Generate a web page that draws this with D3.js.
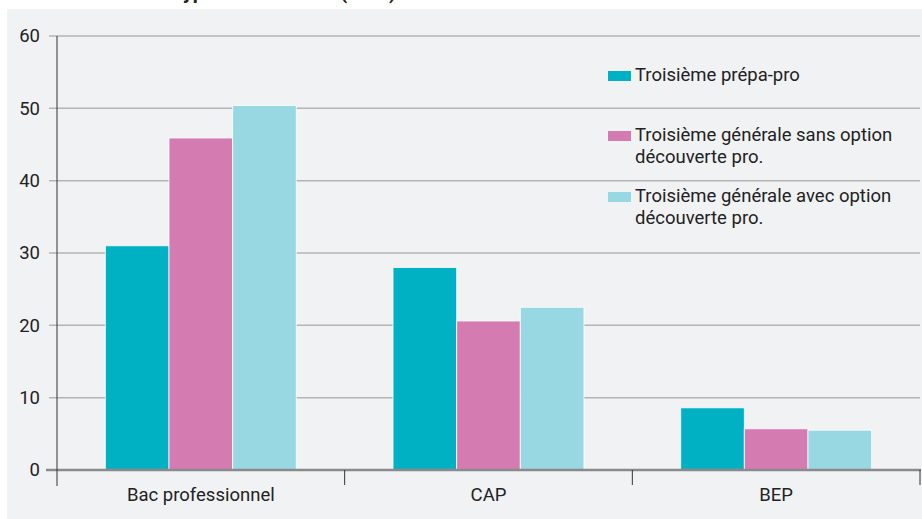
<!DOCTYPE html>
<html><head><meta charset="utf-8">
<script src="https://cdn.jsdelivr.net/npm/d3@7"></script>
<style>
html,body{margin:0;padding:0;background:#fff;}
svg{display:block;font-family:Roboto, "Noto Sans", sans-serif;}
</style></head>
<body>
<svg id="c" width="922" height="519"></svg>
<script>
const categories = ["Bac professionnel", "CAP", "BEP"];
const seriesNames = [
  ["Troisième prépa-pro"],
  ["Troisième générale sans option", "découverte pro."],
  ["Troisième générale avec option", "découverte pro."]
];
const prepaPro = [31, 28, 8.6];
const generaleSans = [45.9, 20.6, 5.7];
const generaleAvec = [50.4, 22.5, 5.5];
const yTicks = [0, 10, 20, 30, 40, 50, 60];
const colors = ["#00b0c3", "#d47bb2", "#98d8e2"];
const title = "Type de formation (en %)";

(function () {
const series = [prepaPro, generaleSans, generaleAvec];
const svg = d3.select("#c");
const fs = 18.5;

// title (cut off at top, as in the source image)
svg.append("text").attr("x", 396).attr("y", -1).attr("text-anchor", "end")
  .attr("font-weight", "bold").attr("font-size", 20).attr("fill", "#222").text(title);

// panel background
svg.append("rect").attr("x", 7).attr("y", 9).attr("width", 915).attr("height", 510).attr("fill", "#f1f2f4");

const pl = 57, pr = 920, pt = 36, pb = 470;
const y = d3.scaleLinear().domain([0, 60]).range([pb, pt]);
const x0 = d3.scaleBand().domain(categories).range([pl, pr]).padding(0);
const x1 = d3.scaleBand().domain(d3.range(series.length)).range([0, x0.bandwidth()]).paddingInner(0).paddingOuter(0.76);

// gridlines
svg.append("g").selectAll("line").data(yTicks.filter(d => d > 0)).join("line")
  .attr("x1", pl - 8).attr("x2", pr).attr("y1", d => y(d)).attr("y2", d => y(d))
  .attr("stroke", "#b4b4b6").attr("stroke-width", 1.5);

// y tick labels
svg.append("g").selectAll("text").data(yTicks).join("text")
  .attr("x", 40).attr("y", d => y(d)).attr("dy", "0.35em").attr("text-anchor", "end")
  .attr("font-size", fs).attr("fill", "#222").text(d => d);

// bars
const g = svg.append("g");
categories.forEach((c, ci) => {
  series.forEach((s, si) => {
    g.append("rect")
      .attr("x", x0(c) + x1(si))
      .attr("y", y(s[ci]))
      .attr("width", x1.bandwidth())
      .attr("height", y(0) - y(s[ci]))
      .attr("fill", colors[si])
      .attr("stroke", "#ffffff").attr("stroke-width", 1).attr("stroke-opacity", 0.8);
  });
});

// baseline
svg.append("line").attr("x1", pl - 11).attr("x2", pr + 1).attr("y1", y(0)).attr("y2", y(0))
  .attr("stroke", "#8a8a8c").attr("stroke-width", 2.5);

// y axis line
svg.append("line").attr("x1", pl).attr("x2", pl).attr("y1", y(60)).attr("y2", pb + 16)
  .attr("stroke", "#333").attr("stroke-width", 1);

// category ticks
const bounds = categories.map(c => x0(c)).concat([x0(categories[categories.length - 1]) + x0.bandwidth()]);
svg.append("g").selectAll("line").data(bounds.slice(1)).join("line")
  .attr("x1", d => d).attr("x2", d => d).attr("y1", pb).attr("y2", pb + 15)
  .attr("stroke", "#333").attr("stroke-width", 1);

// category labels
svg.append("g").selectAll("text").data(categories).join("text")
  .attr("x", d => x0(d) + x0.bandwidth() / 2).attr("y", 501).attr("text-anchor", "middle")
  .attr("font-size", fs).attr("fill", "#222").text(d => d);

// legend
const legendBase = [81, 141, 202];
const lg = svg.append("g");
seriesNames.forEach((lines, i) => {
  lg.append("rect").attr("x", 608).attr("y", legendBase[i] - 10).attr("width", 23).attr("height", 10).attr("fill", colors[i]);
  const t = lg.append("text").attr("x", 635).attr("y", legendBase[i]).attr("font-size", fs).attr("fill", "#222");
  lines.forEach((l, li) => {
    t.append("tspan").attr("x", 635).attr("y", legendBase[i] + li * 22).text(l);
  });
});
})();
</script>
</body></html>
